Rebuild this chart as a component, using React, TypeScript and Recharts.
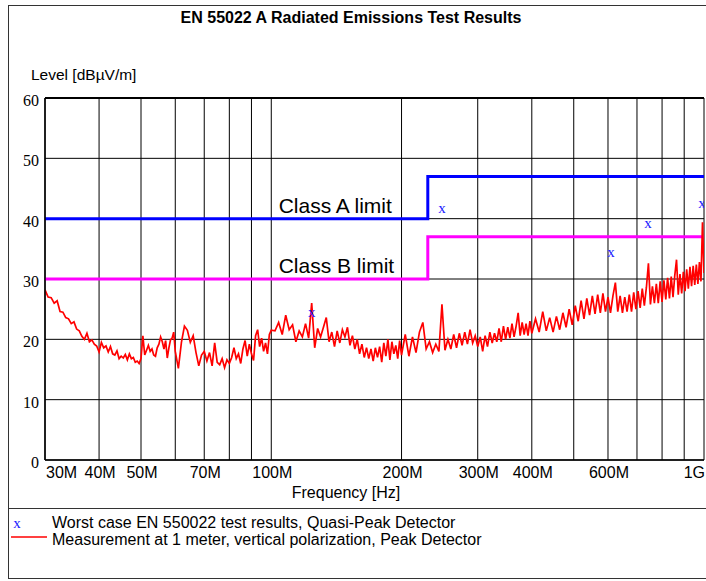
import React from "react";
import {
  ComposedChart,
  Line,
  Scatter,
  XAxis,
  YAxis,
  CartesianGrid,
  ReferenceLine,
  ReferenceDot,
} from "recharts";

// frequency grid (MHz) and labels on the log axis
const gridFreqs = [30, 40, 50, 60, 70, 80, 90, 100, 200, 300, 400, 500, 600, 700, 800, 900, 1000];
const labeledFreqs = [30, 40, 50, 70, 100, 200, 300, 400, 600, 1000];
const freqLabels = ["30M", "40M", "50M", "70M", "100M", "200M", "300M", "400M", "600M", "1G"];
const levelTicks = [0, 10, 20, 30, 40, 50, 60];

// EN 55022 limits (dBuV/m), step at 230 MHz
const limitFreqs = [30, 230, 230, 1000];
const classALimit = [40, 40, 47, 47];
const classBLimit = [30, 30, 37, 37];

// quasi-peak worst case results
const qpFreqs = [124, 248, 610, 742, 990];
const qpLevels = [24.3, 41.6, 34.3, 39.1, 42.4];

// peak detector sweep (each band: start MHz, step MHz, levels)
const sweep30to60 = {
  start: 30,
  step: 0.5,
  levels: [
    28.2, 27.0, 26.9, 26.0, 26.4, 24.6, 24.5, 23.6, 23.4, 22.6, 22.9, 21.7, 21.4, 20.5, 20.0, 21.0,
    19.6, 19.9, 19.2, 18.9, 17.9, 19.5, 18.6, 18.9, 17.9, 18.8, 17.6, 17.4, 18.1, 16.8, 17.2, 16.9,
    17.5, 16.6, 17.6, 16.8, 17.0, 16.2, 16.4, 16.0, 16.8, 20.6, 17.4, 18.2, 19.0, 18.0, 18.4, 17.4,
    17.2, 18.6, 19.2, 20.4, 19.6, 18.4, 19.8, 16.9, 18.6, 19.9, 20.2, 21.2, 18.0,
  ],
};
const sweep61to100 = {
  start: 61,
  step: 1,
  levels: [
    15.2, 19.5, 22.2, 21.5, 19.5, 20.6, 17.8, 15.6, 17.4, 18.0, 16.4, 17.8, 15.6, 19.4, 16.2, 15.8,
    16.8, 15.3, 16.6, 16.0, 17.0, 18.6, 16.8, 17.6, 16.0, 18.4, 19.8, 17.2, 19.2, 17.6, 16.5, 20.6,
    21.6, 18.8, 20.2, 18.0, 19.4, 17.6, 20.8, 21.5,
  ],
};
const sweep102to200 = {
  start: 102,
  step: 2,
  levels: [
    21.4, 22.8, 20.8, 24.0, 21.6, 22.4, 19.6, 21.4, 20.4, 22.6, 20.2, 26.0, 18.6, 21.8, 20.4, 22.0,
    23.6, 19.6, 21.2, 18.8, 21.4, 19.4, 21.6, 20.4, 22.0, 19.0, 20.6, 18.4, 20.0, 17.6, 19.2, 17.0,
    18.6, 16.8, 18.4, 16.4, 18.6, 17.0, 18.8, 16.2, 19.4, 17.2, 20.0, 16.6, 19.6, 17.6, 19.0, 16.8,
    19.8, 17.4,
  ],
};
const sweep204to400 = {
  start: 204,
  step: 4,
  levels: [
    20.8, 17.2, 20.4, 17.8, 21.2, 22.8, 18.4, 19.6, 17.8, 19.2, 18.0, 25.8, 18.2, 20.0, 18.4, 20.8,
    18.6, 21.0, 19.0, 21.2, 19.2, 21.6, 19.4, 20.6, 18.8, 20.4, 18.0, 20.6, 18.8, 21.2, 19.4, 21.0,
    19.6, 21.8, 19.6, 22.2, 20.0, 22.0, 20.2, 22.6, 20.4, 22.2, 24.4, 20.6, 22.8, 20.8, 22.6, 20.6,
    23.0, 21.0,
  ],
};
const sweep408to1000 = {
  start: 408,
  step: 8,
  levels: [
    23.4, 21.2, 24.6, 21.4, 23.6, 21.2, 23.8, 21.6, 24.4, 22.0, 25.0, 22.4, 25.6, 23.0, 26.4, 23.4,
    26.8, 24.0, 27.2, 24.2, 27.4, 24.4, 27.6, 24.6, 27.0, 24.4, 27.2, 29.4, 24.6, 27.2, 24.4, 27.0,
    24.6, 27.4, 24.6, 27.8, 25.0, 28.0, 25.2, 28.4, 25.6, 28.6, 32.6, 25.8, 28.8, 26.0, 29.2, 26.0,
    29.6, 26.2, 29.8, 26.6, 30.2, 26.8, 30.4, 27.0, 30.6, 33.2, 27.4, 30.8, 27.6, 31.2, 28.0, 31.6,
    28.4, 32.0, 28.8, 32.2, 29.0, 32.4, 29.2, 32.8, 29.6, 39.4, 31.0,
  ],
};

const sweeps = [sweep30to60, sweep61to100, sweep102to200, sweep204to400, sweep408to1000];

const peakTrace = sweeps.flatMap((b) =>
  b.levels.map((v, i) => ({ f: +(b.start + i * b.step).toFixed(2), v }))
);
const classAData = limitFreqs.map((f, i) => ({ f, v: classALimit[i] }));
const classBData = limitFreqs.map((f, i) => ({ f, v: classBLimit[i] }));
const qpData = qpFreqs.map((f, i) => ({ f, v: qpLevels[i] }));

const SANS = "'Liberation Sans', Arial, Helvetica, sans-serif";
const SERIF = "'Liberation Serif', 'Times New Roman', serif";

function FreqTick({ x, y, payload }: any) {
  const idx = labeledFreqs.indexOf(payload.value);
  if (idx < 0) return null;
  const last = idx === labeledFreqs.length - 1;
  const anchor = idx === 0 ? "start" : last ? "end" : "middle";
  return (
    <text x={x + 1} y={y + 18} textAnchor={anchor} fontFamily={SANS} fontSize={16} fill="#000">
      {freqLabels[idx]}
    </text>
  );
}

function LevelTick({ x, y, payload }: any) {
  return (
    <text x={x} y={y + 8} textAnchor="end" fontFamily={SERIF} fontSize={16} fill="#000">
      {payload.value}
    </text>
  );
}

const qpMark = (p: any) => (
  <text x={p.cx} y={p.cy + 3.5} textAnchor="middle" fontFamily={SERIF} fontSize={15} fill="#2020ff">
    x
  </text>
);

const limitLabel = (text: string) => (p: any) => (
  <text x={p.cx} y={p.cy - 6} fontFamily={SANS} fontSize={21} fill="#000">
    {text}
  </text>
);

export default function App() {
  return (
    <div style={{ position: "absolute", left: 0, top: 0, width: 706, height: 581, background: "#fff", overflow: "hidden" }}>
      <div style={{ position: "absolute", left: 0, top: 0 }}>
        <ComposedChart width={706} height={581} margin={{ top: 98, right: 2, bottom: 91, left: 5 }}>
          <CartesianGrid stroke="#000" strokeWidth={1} />
          <XAxis
            type="number"
            dataKey="f"
            scale="log"
            domain={[30, 1000]}
            ticks={gridFreqs}
            interval={0}
            allowDataOverflow
            height={30}
            tickSize={0}
            tickMargin={0}
            tick={<FreqTick />}
            axisLine={{ stroke: "#000", strokeWidth: 1.5 }}
          />
          <YAxis
            type="number"
            dataKey="v"
            domain={[0, 60]}
            ticks={levelTicks}
            interval={0}
            width={40}
            tickSize={0}
            tickMargin={6}
            tick={<LevelTick />}
            axisLine={{ stroke: "#000", strokeWidth: 1.5 }}
          />
          <ReferenceLine y={60} stroke="#000" strokeWidth={2} />
          <Line data={classAData} dataKey="v" type="linear" stroke="#0000ff" strokeWidth={3} dot={false} isAnimationActive={false} />
          <Line data={classBData} dataKey="v" type="linear" stroke="#ff00ff" strokeWidth={3} dot={false} isAnimationActive={false} />
          <Line data={peakTrace} dataKey="v" type="linear" stroke="#ff0000" strokeWidth={1.7} dot={false} isAnimationActive={false} />
          <Scatter data={qpData} dataKey="v" shape={qpMark} isAnimationActive={false} />
          <ReferenceDot x={104} y={40} r={0} shape={limitLabel("Class A limit")} />
          <ReferenceDot x={104} y={30} r={0} shape={limitLabel("Class B limit")} />
        </ComposedChart>
      </div>
      <svg width={706} height={581} style={{ position: "absolute", left: 0, top: 0, pointerEvents: "none" }}>
        <rect x={8.5} y={5.5} width={720} height={573} fill="none" stroke="#333" />
        <line x1={8} y1={508.5} x2={706} y2={508.5} stroke="#333" />
        <text x={351} y={23} textAnchor="middle" fontFamily={SANS} fontWeight="bold" fontSize={16}>
          EN 55022 A Radiated Emissions Test Results
        </text>
        <text x={31} y={80} fontFamily={SANS} fontSize={15.5}>
          Level [dBµV/m]
        </text>
        <text x={346} y={498} textAnchor="middle" fontFamily={SANS} fontSize={16}>
          Frequency [Hz]
        </text>
        <text x={17} y={527.5} textAnchor="middle" fontFamily={SERIF} fontSize={15} fill="#2020ff">
          x
        </text>
        <line x1={11} y1={537} x2={47} y2={537} stroke="#ff0000" strokeWidth={1.3} />
        <text x={52} y={528} fontFamily={SANS} fontSize={16}>
          Worst case EN 550022 test results, Quasi-Peak Detector
        </text>
        <text x={52} y={545} fontFamily={SANS} fontSize={16}>
          Measurement at 1 meter, vertical polarization, Peak Detector
        </text>
      </svg>
    </div>
  );
}
